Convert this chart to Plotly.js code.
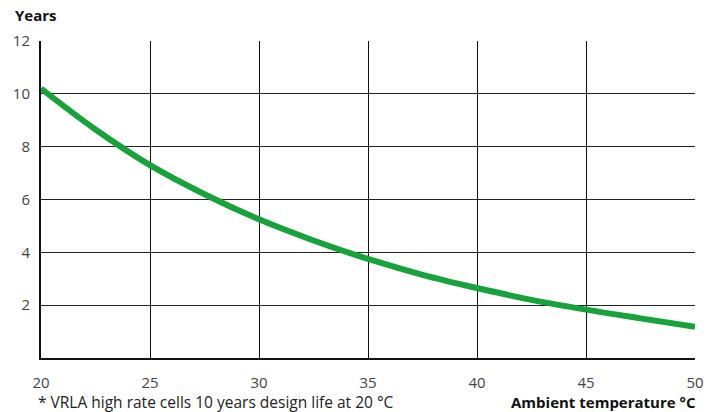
<!DOCTYPE html>
<html>
<head>
<meta charset="utf-8">
<script src="https://cdn.plot.ly/plotly-3.0.1.min.js"></script>
<style>
html,body{margin:0;padding:0;background:#fff;}
#chart{width:713px;height:412px;}
</style>
</head>
<body>
<div id="chart"></div>
<script>
const temperatures = [20, 22.5, 25, 27.5, 30, 32.5, 35, 37.5, 40, 42.5, 45, 47.5, 50];
const lifeYears = [10.2, 8.65, 7.3, 6.2, 5.25, 4.45, 3.75, 3.15, 2.65, 2.2, 1.83, 1.5, 1.18];
const xTicks = [20, 25, 30, 35, 40, 45, 50];
const yTicks = [2, 4, 6, 8, 10, 12];
const yTitle = 'Years';
const xTitle = 'Ambient temperature °C';
const footnote = '* VRLA high rate cells 10 years design life at 20 °C';

const font = 'Open Sans, Noto Sans, sans-serif';

const trace = {
  x: temperatures,
  y: lifeYears,
  type: 'scatter',
  mode: 'lines',
  line: {color: '#17a23b', width: 6, shape: 'spline', smoothing: 1.0},
  hoverinfo: 'skip',
  cliponaxis: false
};

const layout = {
  width: 713,
  height: 412,
  margin: {l: 41, r: 18, t: 41, b: 54},
  paper_bgcolor: '#fff',
  plot_bgcolor: '#fff',
  showlegend: false,
  font: {family: font, size: 15, color: '#444'},
  xaxis: {
    range: [20, 50],
    tickvals: xTicks,
    ticktext: xTicks.map(String),
    showgrid: true,
    gridcolor: '#111',
    gridwidth: 1,
    showline: true,
    linecolor: '#111',
    linewidth: 2,
    zeroline: false,
    ticks: '',
    ticklabelstandoff: 10,
    tickfont: {family: font, size: 15, color: '#444'},
    fixedrange: true
  },
  yaxis: {
    range: [0, 12],
    tickvals: yTicks,
    ticktext: yTicks.map(String),
    showgrid: true,
    gridcolor: '#222',
    gridwidth: 1,
    showline: true,
    linecolor: '#111',
    linewidth: 2,
    zeroline: false,
    ticks: '',
    ticklabelstandoff: 6,
    tickfont: {family: font, size: 15, color: '#444'},
    fixedrange: true
  },
  annotations: [
    {text: '<b>' + yTitle + '</b>', xref: 'paper', yref: 'paper', x: 0, y: 1,
     xshift: -28, yshift: 26, xanchor: 'left', yanchor: 'middle', showarrow: false,
     font: {family: font, size: 15, color: '#111'}},
    {text: '<b>' + xTitle + '</b>', xref: 'paper', yref: 'paper', x: 1, y: 0,
     xshift: 3, yshift: -44, xanchor: 'right', yanchor: 'middle', showarrow: false,
     font: {family: font, size: 15, color: '#111'}},
    {text: footnote, xref: 'paper', yref: 'paper', x: 0, y: 0,
     xshift: -5, yshift: -44, xanchor: 'left', yanchor: 'middle', showarrow: false,
     font: {family: font, size: 15.5, color: '#222'}}
  ]
};

Plotly.newPlot('chart', [trace], layout, {displayModeBar: false, staticPlot: true});
</script>
</body>
</html>
